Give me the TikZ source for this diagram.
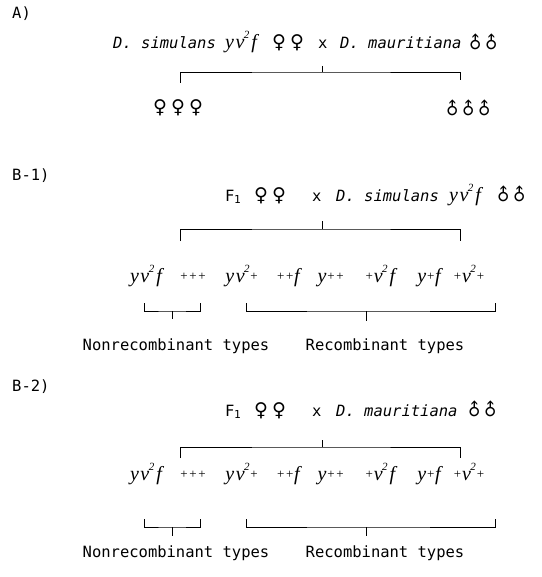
\documentclass[tikz,border=0pt]{standalone}
\usepackage{graphicx}
\usepackage{fontspec}
\setmainfont{DejaVu Sans Mono}
\newfontfamily\symfont{DejaVu Sans}
\newfontfamily\genfont{Liberation Serif}
\newcommand\fem{\makebox[18pt]{\symfont\fontsize{19}{19}\selectfont ♀}}
\newcommand\mal{\makebox[16pt]{\symfont\fontsize{17}{17}\selectfont\rotatebox[origin=c]{45}{♂}}}
\newcommand\gt[1]{{\genfont\itshape\fontsize{20}{20}\selectfont #1}}
\newcommand\pl{\makebox[9pt]{\genfont\upshape\fontsize{13}{13}\selectfont\raisebox{0.15em}{+}}}
\newcommand\vsq{v\kern-0.5pt\raisebox{0.5em}{\fontsize{11}{11}\selectfont 2}}
\newcommand\yvf{y\kern1.5pt\vsq\kern2pt f}
\newcommand\Fone{F\kern-0.5pt\raisebox{-0.15em}{\fontsize{11}{11}\selectfont 1}}
\newcommand\seg[2]{\makebox[#1][l]{#2}}
\tikzset{
  every node/.style={font=\fontsize{15.5}{18}\selectfont, inner sep=0pt},
  br/.style={line width=0.8pt},
}
\begin{document}
\begin{tikzpicture}[x=1pt,y=-1pt]
\useasboundingbox (0,0) rectangle (541,577);
% ---------- A ----------
\node[anchor=base west] (la) at (12,19) {A)};
\node[anchor=base west] (ta) at (113,49) {\seg{112pt}{\textit{D. simulans}}\seg{45pt}{\gt{\yvf}}\seg{48pt}{\fem\fem}\seg{22pt}{x}\seg{127pt}{\textit{D. mauritiana}}\mal\mal};
\coordinate (aT) at (322,66);
\coordinate (aH) at (322,72);
\coordinate (aL) at (180,83);
\coordinate (aR) at (460,80);
\draw[br] (aL) |- (aH) -| (aR);
\draw[br] (aT) -- (aH);
\node[anchor=base] (fa) at (178,114) {\fem\fem\fem};
\node[anchor=base] (ma) at (469,115) {\mal\mal\mal};
% ---------- B-1 ----------
\node[anchor=base west] (lb1) at (12,181) {B-1)};
\node[anchor=base west] (tb1) at (225,201) {\seg{27pt}{\Fone}\seg{60pt}{\fem\fem}\seg{24pt}{x}\seg{113pt}{\textit{D. simulans}}\seg{46pt}{\gt{\yvf}}\mal\mal};
\coordinate (bT) at (322,221);
\coordinate (bH) at (322,229);
\coordinate (bL) at (180,241);
\coordinate (bR) at (460,241);
\draw[br] (bL) |- (bH) -| (bR);
\draw[br] (bT) -- (bH);
\foreach \n/\x/\g in {1/146/{\yvf},2/193/{\pl\pl\pl},3/242/{y\kern1.5pt\vsq\pl},4/288/{\pl\pl f},5/331/{y\pl\pl},6/380/{\pl\vsq\kern2pt f},7/429/{y\pl f},8/469/{\pl\vsq\pl}}
  \node[anchor=base] (g1\n) at (\x,282) {\gt{\g}};
\coordinate (n1L) at (144,303);
\coordinate (n1H) at (172,311);
\coordinate (n1R) at (200,303);
\coordinate (n1T) at (172,319);
\draw[br] (n1L) |- (n1H) -| (n1R);
\draw[br] (n1H) -- (n1T);
\coordinate (r1L) at (246,303);
\coordinate (r1H) at (366,311);
\coordinate (r1R) at (495,303);
\coordinate (r1T) at (366,321);
\draw[br] (r1L) |- (r1H) -| (r1R);
\draw[br] (r1H) -- (r1T);
\node[anchor=base] (nl1) at (176,350) {Nonrecombinant types};
\node[anchor=base] (rl1) at (385,350) {Recombinant types};
% ---------- B-2 ----------
\node[anchor=base west] (lb2) at (12,391) {B-2)};
\node[anchor=base west] (tb2) at (225,416) {\seg{27pt}{\Fone}\seg{60pt}{\fem\fem}\seg{24pt}{x}\seg{130pt}{\textit{D. mauritiana}}\mal\mal};
\coordinate (cT) at (322,440);
\coordinate (cH) at (322,447);
\coordinate (cL) at (180,458);
\coordinate (cR) at (460,458);
\draw[br] (cL) |- (cH) -| (cR);
\draw[br] (cT) -- (cH);
\foreach \n/\x/\g in {1/146/{\yvf},2/193/{\pl\pl\pl},3/242/{y\kern1.5pt\vsq\pl},4/288/{\pl\pl f},5/331/{y\pl\pl},6/380/{\pl\vsq\kern2pt f},7/429/{y\pl f},8/469/{\pl\vsq\pl}}
  \node[anchor=base] (g2\n) at (\x,480) {\gt{\g}};
\coordinate (n2L) at (144,519);
\coordinate (n2H) at (172,527);
\coordinate (n2R) at (200,519);
\coordinate (n2T) at (172,536);
\draw[br] (n2L) |- (n2H) -| (n2R);
\draw[br] (n2H) -- (n2T);
\coordinate (r2L) at (246,519);
\coordinate (r2H) at (366,527);
\coordinate (r2R) at (495,519);
\coordinate (r2T) at (366,536);
\draw[br] (r2L) |- (r2H) -| (r2R);
\draw[br] (r2H) -- (r2T);
\node[anchor=base] (nl2) at (176,557) {Nonrecombinant types};
\node[anchor=base] (rl2) at (385,557) {Recombinant types};
\end{tikzpicture}
\end{document}
